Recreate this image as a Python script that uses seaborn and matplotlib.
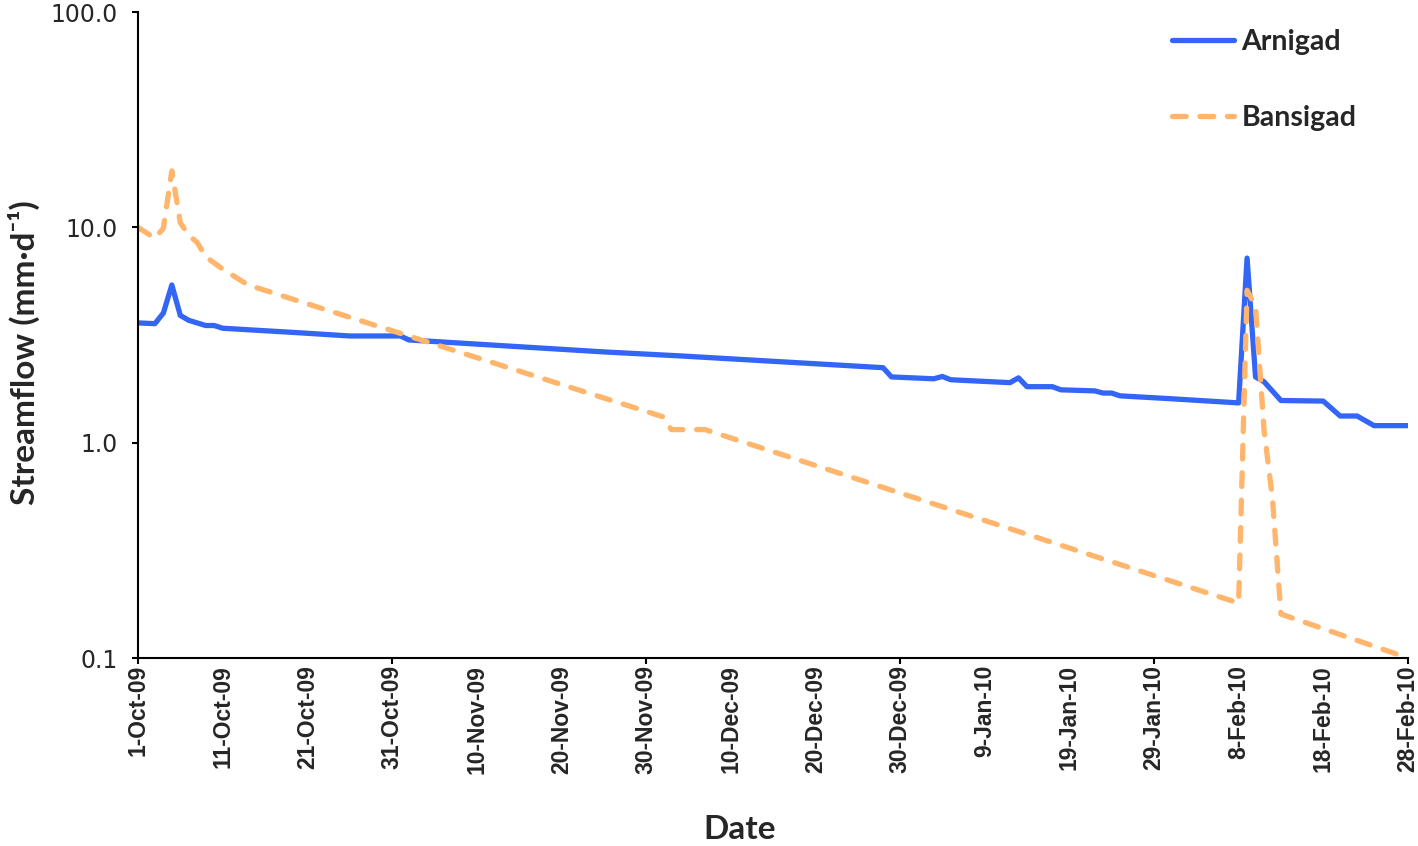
"""Streamflow recession at Arnigad and Bansigad, Oct 2009 - Feb 2010."""

import matplotlib

matplotlib.use("Agg")
import matplotlib.dates as mdates
import matplotlib.pyplot as plt
import matplotlib.ticker as mticker
import pandas as pd
import seaborn as sns

# Breakpoints of the daily hydrographs (mm/d)
arnigad_dates = [
    "2009-10-01", "2009-10-03", "2009-10-04", "2009-10-05", "2009-10-06",
    "2009-10-07", "2009-10-09", "2009-10-10", "2009-10-11", "2009-10-20",
    "2009-10-26", "2009-11-01", "2009-11-02", "2009-11-25", "2009-12-04",
    "2009-12-28", "2009-12-29", "2010-01-03", "2010-01-04", "2010-01-05",
    "2010-01-12", "2010-01-13", "2010-01-14", "2010-01-17", "2010-01-18",
    "2010-01-22", "2010-01-23", "2010-01-24", "2010-01-25", "2010-01-31",
    "2010-02-08", "2010-02-09", "2010-02-10", "2010-02-11", "2010-02-13",
    "2010-02-18", "2010-02-20", "2010-02-22", "2010-02-24", "2010-02-28",
]
arnigad_flow = [
    3.60, 3.57, 4.00, 5.40, 3.90,
    3.70, 3.50, 3.50, 3.40, 3.24,
    3.13, 3.13, 3.00, 2.64, 2.53,
    2.23, 2.02, 1.98, 2.03, 1.96,
    1.90, 2.00, 1.82, 1.82, 1.76,
    1.74, 1.70, 1.70, 1.65, 1.60,
    1.53, 7.20, 2.02, 1.92, 1.57,
    1.56, 1.33, 1.33, 1.20, 1.20,
]

bansigad_dates = [
    "2009-10-01", "2009-10-03", "2009-10-04", "2009-10-05", "2009-10-06",
    "2009-10-07", "2009-10-08", "2009-10-09", "2009-10-11", "2009-10-14",
    "2009-12-02", "2009-12-03", "2009-12-07", "2010-02-08", "2010-02-09",
    "2010-02-10", "2010-02-11", "2010-02-12", "2010-02-13", "2010-02-28",
]
bansigad_flow = [
    10.0, 8.9, 9.9, 18.3, 10.5,
    9.2, 8.5, 7.3, 6.4, 5.4,
    1.32, 1.15, 1.15, 0.18, 5.1,
    4.3, 1.15, 0.55, 0.16, 0.10,
]

station_names = ["Arnigad", "Bansigad"]
station_colors = ["#3366f5", "#ffb56b"]
y_ticks = [0.1, 1.0, 10.0, 100.0]

df = pd.concat(
    [
        pd.DataFrame({"date": pd.to_datetime(d), "flow": f, "station": s})
        for s, d, f in zip(
            station_names,
            [arnigad_dates, bansigad_dates],
            [arnigad_flow, bansigad_flow],
        )
    ],
    ignore_index=True,
)

sns.set_style("ticks")
plt.rcParams["font.family"] = ["DejaVu Sans"]

fig = plt.figure(figsize=(14.18, 8.46), dpi=100)
ax = fig.add_axes([0.0973, 0.2222, 0.8956, 0.7636])
ax.set_yscale("log")

sns.lineplot(
    data=df,
    x="date",
    y="flow",
    hue="station",
    style="station",
    palette=dict(zip(station_names, station_colors)),
    dashes={"Arnigad": "", "Bansigad": (2.6, 2.6)},
    linewidth=3.8,
    estimator=None,
    ax=ax,
)
for line in ax.get_lines():
    line.set_dash_capstyle("round")
    line.set_solid_joinstyle("round")

# Axes ranges and ticks
start, end = pd.Timestamp("2009-10-01"), pd.Timestamp("2010-02-28")
ax.set_xlim(start, end)
ax.set_ylim(0.1, 100)
ax.yaxis.set_major_locator(mticker.FixedLocator(y_ticks))
ax.yaxis.set_minor_locator(mticker.NullLocator())
ax.yaxis.set_major_formatter(mticker.FuncFormatter(lambda v, _: f"{v:.1f}"))

label_days = pd.date_range(start, end, freq="10D")
mark_days = pd.date_range(start, end, freq="30D")
ax.set_xticks(mdates.date2num(label_days),
              [f"{d.day}-{d:%b-%y}" for d in label_days])
ax.set_xticks(mdates.date2num(mark_days), minor=True)
ax.xaxis.remove_overlapping_locs = False
ax.tick_params(axis="x", which="major", length=0, pad=5, labelsize=16.5,
               labelrotation=90, labelfontfamily="Liberation Sans")
ax.tick_params(axis="x", which="minor", length=4.5, width=1.5, color="black")
ax.tick_params(axis="y", which="major", length=4.5, width=1.5, color="black",
               pad=10, labelsize=17)
for lbl in ax.get_xticklabels():
    lbl.set_fontweight("bold")

sns.despine(ax=ax)
for side in ("left", "bottom"):
    ax.spines[side].set_linewidth(1.5)
    ax.spines[side].set_color("black")

# Axis titles
ax.set_xlabel("Date", fontsize=24, fontweight="bold", family=["Lato", "DejaVu Sans"])
ax.set_ylabel("Streamflow (mm·d⁻¹)", fontsize=24, fontweight="bold",
              family=["Lato", "DejaVu Sans"])
ax.xaxis.label.set_va("center")
ax.yaxis.label.set_va("center")
ax.xaxis.set_label_coords(0.474, -0.266)
ax.yaxis.set_label_coords(-0.090, 0.472)

# Legend without frame, top right
handles, labels = ax.get_legend_handles_labels()
leg = ax.legend(
    handles,
    labels,
    loc="upper left",
    bbox_to_anchor=(0.814, 0.973),
    frameon=False,
    borderpad=0,
    borderaxespad=0,
    handlelength=2.2,
    handletextpad=0.25,
    labelspacing=1.75,
    prop={"family": ["Lato", "DejaVu Sans"], "weight": "bold", "size": 20.5},
)
for h in leg.get_lines():
    h.set_linewidth(3.8)
    h.set_dash_capstyle("round")

fig.savefig("out.png", dpi=100)
plt.close(fig)
